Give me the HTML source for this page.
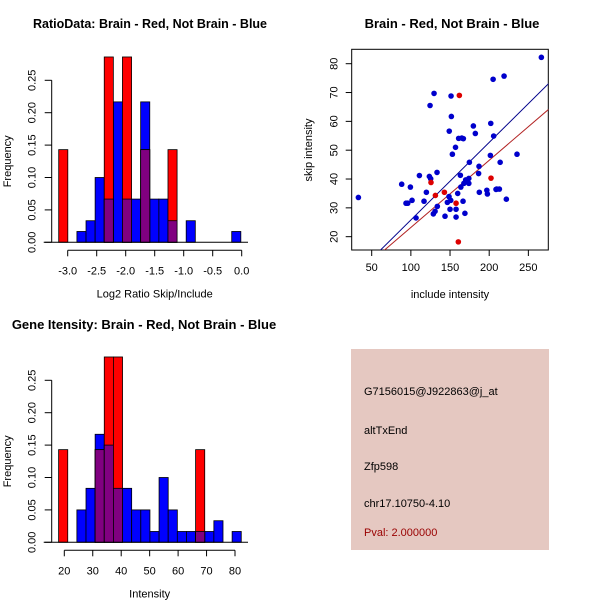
<!DOCTYPE html>
<html><head><meta charset="utf-8"><style>
body{margin:0;background:#fff;}
svg{display:block;font-family:"Liberation Sans",sans-serif;}
</style></head><body>
<svg id="c" width="600" height="600" xmlns="http://www.w3.org/2000/svg"></svg>
<script>
// ---- data ----
const ratioBinStart = -3.155;
const ratioBinWidth = 0.157;
const ratioBlue = [0,0,0.0167,0.0333,0.1,0.0667,0.2167,0.0667,0.0667,0.2167,0.0667,0.0667,0.0333,0,0.0333,0,0,0,0,0.0167];
const ratioRed  = [0.143,0,0,0,0,0.286,0,0.286,0,0.143,0,0,0.143,0,0,0,0,0,0,0];
const ratioXTicks = [-3.0,-2.5,-2.0,-1.5,-1.0,-0.5,0.0];
const freqTicks = [0,0.05,0.10,0.15,0.20,0.25];
const intBinStart = 18.0;
const intBinWidth = 3.21;
const intBlue = [0,0,0.05,0.0833,0.1667,0.15,0.0833,0.0833,0.05,0.05,0.0167,0.1,0.05,0.0167,0.0167,0.0167,0.0167,0.0333,0,0.0167];
const intRed  = [0.143,0,0,0,0.143,0.286,0.286,0,0,0,0,0,0,0,0,0.143,0,0,0,0];
const intXTicks = [20,30,40,50,60,70,80];
const blueX = [33,266.6,219,205,129.6,151.3,124.5,151.7,202,179.8,182.3,205.7,161,165,167,149,157,153,235.5,201.5,174.7,214,187,186.5,110.9,123.6,125.3,133.4,163.2,174,88.3,99.4,170,174,163.8,167.7,119.8,159.8,187.4,197,197.7,209.6,213,208.7,101.5,93.8,96,116.8,148.7,146.6,150.9,133.8,166.6,221.9,130.9,128.7,157.7,150,169,106.6,143.6,157.7];
const blueY = [33.6,82.2,75.7,74.6,69.7,68.8,65.5,61.7,59.3,58.4,55.8,54.9,54.1,54.2,54,56.6,51,48.6,48.6,48.2,45.8,45.8,44.4,41.9,41.2,40.9,40.1,42.3,41.3,40.2,38.2,37.2,39.7,38.5,37.2,38.5,35.4,35,35.4,36.1,34.8,36.5,36.5,36.4,32.6,31.6,31.6,32.3,33.9,31.9,32.6,30.5,32.3,33,28.8,27.9,29.5,29.5,28.1,26.5,27.1,26.8];
const redX = [161.9,125.7,131.3,142.8,157.7,202.3,160.6];
const redY = [69,38.8,34.3,35.4,31.6,40.3,18.2];
const blueFit = [-1.1,0.269];
const redFit = [-0.1,0.233];
const scatXTicks = [50,100,150,200,250];
const scatYTicks = [20,30,40,50,60,70,80];

const svg = document.getElementById('c');
const NS = 'http://www.w3.org/2000/svg';
function mk(tag, attrs, parent){
  const e = document.createElementNS(NS, tag);
  for (const k in attrs) e.setAttribute(k, attrs[k]);
  (parent||svg).appendChild(e);
  return e;
}
function txt(x,y,s,size,opts){
  opts = opts||{};
  const t = mk('text',{x:x,y:y,'font-size':size,'text-anchor':opts.anchor||'middle',fill:opts.fill||'#000'});
  if (opts.bold) t.setAttribute('font-weight','bold');
  if (opts.rot) t.setAttribute('transform','rotate(-90 '+x+' '+y+')');
  t.textContent = s;
  return t;
}

function histogram(cfg){
  const g = mk('g',{});
  
  
  const X = v => cfg.x0px + (v - cfg.x0v) * cfg.xs;
  const Y = v => cfg.y0px - v * cfg.ys;
  const n = cfg.blue.length;
  for (let i=0;i<n;i++){
    const l = X(cfg.start + i*cfg.width), r = X(cfg.start + (i+1)*cfg.width);
    if (cfg.blue[i]>0){
      const b = mk('rect',{x:l,y:Y(cfg.blue[i]),width:r-l,height:cfg.blue[i]*cfg.ys,fill:'#0000ff',stroke:'#000','stroke-width':0.8},g);
      
      
    }
  }
  for (let i=0;i<n;i++){
    const l = X(cfg.start + i*cfg.width), r = X(cfg.start + (i+1)*cfg.width);
    if (cfg.red[i]>0){
      const b = mk('rect',{x:l,y:Y(cfg.red[i]),width:r-l,height:cfg.red[i]*cfg.ys,fill:'#ff0000',stroke:'#000','stroke-width':0.8},g);
      
      
      const m = Math.min(cfg.red[i], cfg.blue[i]);
      if (m>0){
        const p = mk('rect',{x:l,y:Y(m),width:r-l,height:m*cfg.ys,fill:'#800080',stroke:'#000','stroke-width':0.8},g);
        
        
      }
    }
  }
  mk('line',{x1:cfg.y0axisX-8,x2:248,y1:cfg.y0px,y2:cfg.y0px,stroke:'#000','stroke-width':1},g);
  const ya = mk('g',{},g);
  
  
  mk('line',{x1:cfg.y0axisX,x2:cfg.y0axisX,y1:Y(0),y2:Y(0.25),stroke:'#000'},ya);
  freqTicks.forEach(v=>{
    mk('line',{x1:cfg.y0axisX-7,x2:cfg.y0axisX,y1:Y(v),y2:Y(v),stroke:'#000'},ya);
    const t = txt(cfg.y0axisX-16,Y(v),v.toFixed(2),11,{rot:true});
    
    
  });
  const xa = mk('g',{},g);
  
  
  const ax = cfg.y0px + 8;
  mk('line',{x1:X(cfg.ticks[0]),x2:X(cfg.ticks[cfg.ticks.length-1]),y1:ax,y2:ax,stroke:'#000'},xa);
  cfg.ticks.forEach(v=>{
    mk('line',{x1:X(v),x2:X(v),y1:ax,y2:ax+6,stroke:'#000'},xa);
    const t = txt(X(v),ax+24,cfg.fmt(v),11);
    
    
  });
  const tt = txt(cfg.titleX, cfg.titleY, cfg.title, cfg.titleSize, {bold:true});
  
  
  const xl = txt(X(cfg.ticks[0])+ (X(cfg.ticks[cfg.ticks.length-1])-X(cfg.ticks[0]))/2, cfg.y0px+55, cfg.xlabel, 11);
  
  
  const yl = txt(11, Y(0.125), 'Frequency', 11, {rot:true});
  
  
}

histogram({name:'ratio-histogram',blue:ratioBlue,red:ratioRed,start:ratioBinStart,width:ratioBinWidth,
  x0v:-3.0,x0px:67.7,xs:58.0,y0px:242.3,ys:648,y0axisX:51.7,ticks:ratioXTicks,fmt:v=>v.toFixed(1),
  title:'RatioData: Brain - Red, Not Brain - Blue',titleX:150,titleY:28,titleSize:12.5,xlabel:'Log2 Ratio Skip/Include'});
histogram({name:'intensity-histogram',blue:intBlue,red:intRed,start:intBinStart,width:intBinWidth,
  x0v:20,x0px:64.3,xs:2.845,y0px:542.3,ys:648,y0axisX:51.7,ticks:intXTicks,fmt:v=>String(v),
  title:'Gene Itensity: Brain - Red, Not Brain - Blue',titleX:144,titleY:329,titleSize:13,xlabel:'Intensity'});

(function(){
  const g = mk('g',{});
  
  
  const L=351.7,R=548.3,T=49.3,B=250;
  const X = v => 371.7 + (v-50)*0.7833;
  const Y = v => 63.7 - (v-80)*2.883;
  const clip = mk('clipPath',{id:'sc'},g);
  mk('rect',{x:L,y:T,width:R-L,height:B-T},clip);
  const box = mk('rect',{x:L,y:T,width:R-L,height:B-T,fill:'none',stroke:'#000'},g);
  
  
  const lg = mk('g',{'clip-path':'url(#sc)'},g);
  [[blueFit,'#00008b','blue-fit-line'],[redFit,'#b22222','red-fit-line']].forEach(([f,c,n])=>{
    const l = mk('line',{x1:X(0),y1:Y(f[0]),x2:X(300),y2:Y(f[0]+f[1]*300),stroke:c,'stroke-width':1},lg);
    
    
  });
  blueX.forEach((v,i)=>{
    const p = mk('circle',{cx:X(v),cy:Y(blueY[i]),r:2.8,fill:'#0000cc'},g);
    
    
  });
  redX.forEach((v,i)=>{
    const p = mk('circle',{cx:X(v),cy:Y(redY[i]),r:2.8,fill:'#dd0000'},g);
    
    
  });
  scatXTicks.forEach(v=>{
    mk('line',{x1:X(v),x2:X(v),y1:B,y2:B+6,stroke:'#000'},g);
    const t = txt(X(v),B+21,String(v),11);
    
    
  });
  scatYTicks.forEach(v=>{
    mk('line',{x1:L-6,x2:L,y1:Y(v),y2:Y(v),stroke:'#000'},g);
    const t = txt(L-14,Y(v),String(v),11,{rot:true});
    
    
  });
  const tt = txt(452,28,'Brain - Red, Not Brain - Blue',13,{bold:true});
  
  
  const xl = txt(450,298,'include intensity',11);
  
  
  const yl = txt(312,150,'skip intensity',11,{rot:true});
  
  
})();

(function(){
  const g = mk('g',{});
  
  
  mk('rect',{x:351,y:349,width:198,height:201,fill:'#e5c8c1'},g);
  const lines = [['G7156015@J922863@j_at',395,'#000','probe-id'],['altTxEnd',434,'#000','event-type'],['Zfp598',470,'#000','gene-name'],['chr17.10750-4.10',507,'#000','location'],['Pval: 2.000000',536,'#990000','p-value']];
  lines.forEach(([s,y,c,n])=>{
    const t = txt(364,y,s,11,{anchor:'start',fill:c});
    
    
  });
})();
</script>
</body></html>
